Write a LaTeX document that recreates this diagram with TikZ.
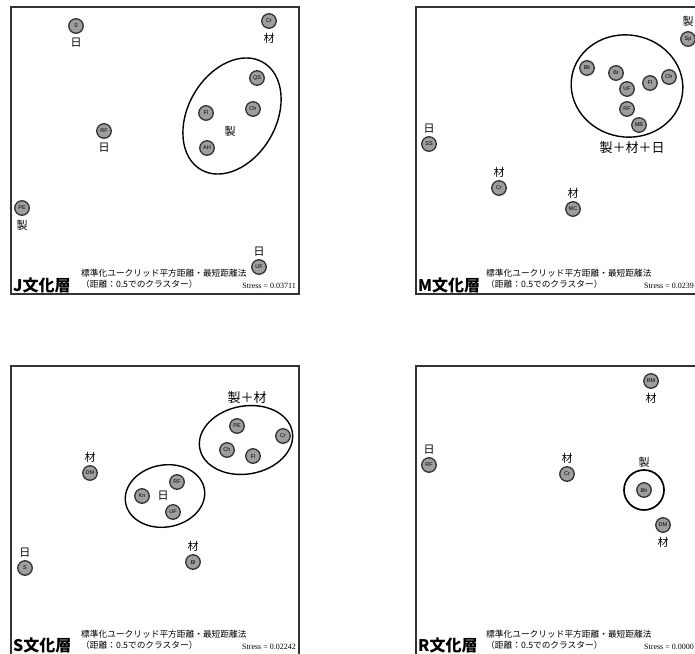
\documentclass[tikz,border=0pt]{standalone}
\usepackage{fontspec}
\setmainfont{Liberation Sans}
\newfontfamily\cjk{Noto Sans CJK JP}
\newfontfamily\timesfont{Liberation Serif}
\usetikzlibrary{positioning,shapes.geometric}

\begin{document}
\begin{tikzpicture}[x=1pt,y=-1pt]
      \tikzstyle{site}=[circle, minimum size=14.5pt, inner sep=0pt, line width=1.3pt, draw=black!80, fill=black!38, font=\fontsize{5.5}{5.5}\selectfont]
      \tikzstyle{tag}=[inner sep=0pt, font=\cjk\fontsize{11}{11}\selectfont]
      \tikzstyle{bigtag}=[inner sep=0pt, font=\cjk\fontsize{13}{13}\selectfont]
      \tikzstyle{cluster}=[ellipse, draw=black, line width=1.4pt, inner sep=0pt]
      \tikzstyle{panel}=[draw=black!80, line width=1.8pt]
      \tikzstyle{layer}=[anchor=west, inner sep=0pt, font=\cjk\bfseries\fontsize{16}{16}\selectfont]
      \tikzstyle{method}=[anchor=west, inner sep=0pt, font=\cjk\fontsize{8.7}{8.7}\selectfont]
      \tikzstyle{stress}=[anchor=east, inner sep=0pt, font=\timesfont\fontsize{8}{8}\selectfont]

      \useasboundingbox (0,0) rectangle (695,653);
      \clip (0,0) rectangle (695,653);

      % frames
      \draw[panel] (11,7) rectangle (299,294);
      \draw[panel] (416,7) rectangle (704,294);
      \draw[panel] (11,366) rectangle (299,656);
      \draw[panel] (416,366) rectangle (704,656);

      % J layer
      \node[site] (jS) at (76,26) {S};
      \node[tag] (jSt) [below=4pt of jS] {日};
      \node[site] (jCr) at (269,21) {Cr};
      \node[tag] (jCrt) [below=4pt of jCr] {材};
      \node[site] (jQS) at (257,78) {QS};
      \node[site] (jFl) at (206,113) {Fl};
      \node[site] (jCh) at (253,109) {Ch};
      \node[site] (jAH) at (207,148) {AH};
      \node[tag] (jClt) at (230,131) {製};
      \node[cluster, minimum width=124pt, minimum height=88pt, rotate=60] (jClu) at (232,116) {};
      \node[site] (jRF) at (104,131) {RF};
      \node[tag] (jRFt) [below=4pt of jRF] {日};
      \node[site] (jPE) at (22,208) {PE};
      \node[tag] (jPEt) [below=4pt of jPE] {製};
      \node[layer] (jName) at (13,285) {J文化層};
      \node[method] (jM1) at (81,273) {標準化ユークリッド平方距離・最短距離法};
      \node[method] (jM2) at (81,284) {（距離：0.5でのクラスター）};
      \node[stress] (jStr) at (296,286) {Stress = 0.03711};
      \node[site] (jUF) at (259,267) {UF};
      \node[tag] (jUFt) [above=3pt of jUF] {日};

      % M layer
      \node[site] (mSp) at (688,39) {Sp};
      \node[tag] (mSpt) [above=4pt of mSp] {製};
      \node[cluster, minimum width=112pt, minimum height=102pt, rotate=-10] (mClu) at (627,86) {};
      \node[site] (mBk) at (587,68) {Bk};
      \node[site] (mBr) at (616,73) {Br};
      \node[site] (mUF) at (627,89) {UF};
      \node[site] (mRF) at (627,109) {RF};
      \node[site] (mMB) at (639,125) {MB};
      \node[site] (mFl) at (650,83) {Fl};
      \node[site] (mCh) at (669,77) {Ch};
      \node[bigtag] (mClt) at (632,148) {製＋材＋日};
      \node[site] (mSS) at (429,144) {SS};
      \node[tag] (mSSt) [above=3pt of mSS] {日};
      \node[site] (mCr) at (499,188) {Cr};
      \node[tag] (mCrt) [above=3pt of mCr] {材};
      \node[site] (mMC) at (573,209) {MC};
      \node[tag] (mMCt) [above=3pt of mMC] {材};
      \node[layer] (mName) at (418,285) {M文化層};
      \node[method] (mM1) at (486,273) {標準化ユークリッド平方距離・最短距離法};
      \node[method] (mM2) at (486,284) {（距離：0.5でのクラスター）};
      \node[stress] (mStr) at (694,286) {Stress = 0.0239};

      % S layer
      \node[cluster, minimum width=94pt, minimum height=68pt, rotate=10] (sClu1) at (246,440) {};
      \node[bigtag] (sClt1) at (247,398) {製＋材};
      \node[site] (sPE) at (237,426) {PE};
      \node[site] (sCr) at (283,436) {Cr};
      \node[site] (sCh) at (227,450) {Ch};
      \node[site] (sFl) at (253,456) {Fl};
      \node[site] (sDM) at (90,473) {DM};
      \node[tag] (sDMt) [above=3pt of sDM] {材};
      \node[cluster, minimum width=80pt, minimum height=62pt, rotate=10] (sClu2) at (165,496) {};
      \node[site] (sRF) at (177,482) {RF};
      \node[site] (sKn) at (142,496) {Kn};
      \node[tag] (sClt2) at (163,496) {日};
      \node[site] (sUF) at (173,512) {UF};
      \node[site] (sBl) at (193,562) {Bl};
      \node[tag] (sBlt) [above=3pt of sBl] {材};
      \node[site] (sS) at (25,568) {S};
      \node[tag] (sSt) [above=3pt of sS] {日};
      \node[layer] (sName) at (13,645) {S文化層};
      \node[method] (sM1) at (81,634) {標準化ユークリッド平方距離・最短距離法};
      \node[method] (sM2) at (81,645) {（距離：0.5でのクラスター）};
      \node[stress] (sStr) at (296,647) {Stress = 0.02242};

      % R layer
      \node[site] (rRM) at (651,381) {RM};
      \node[tag] (rRMt) [below=4pt of rRM] {材};
      \node[site] (rRF) at (429,465) {RF};
      \node[tag] (rRFt) [above=3pt of rRF] {日};
      \node[site] (rCr) at (567,474) {Cr};
      \node[tag] (rCrt) [above=3pt of rCr] {材};
      \node[site] (rBh) at (644,490) {Bh};
      \node[cluster, circle, minimum size=40pt, line width=1.7pt] (rClu) at (rBh) {};
      \node[tag] (rClt) [above=2pt of rClu] {製};
      \node[site] (rDM) at (663,525) {DM};
      \node[tag] (rDMt) [below=4pt of rDM] {材};
      \node[layer] (rName) at (418,645) {R文化層};
      \node[method] (rM1) at (486,634) {標準化ユークリッド平方距離・最短距離法};
      \node[method] (rM2) at (486,645) {（距離：0.5でのクラスター）};
      \node[stress] (rStr) at (694,647) {Stress = 0.0000};

    \end{tikzpicture}
\end{document}
